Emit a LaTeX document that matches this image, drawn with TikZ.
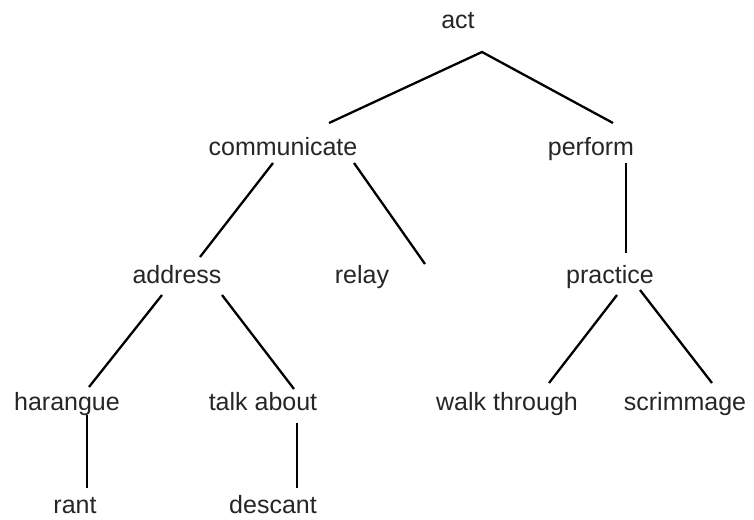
\documentclass[tikz,border=0pt]{standalone}
\usepackage{fontspec}
\setmainfont{Liberation Sans}
\begin{document}
\begin{tikzpicture}[x=1pt,y=-1pt,
  lbl/.style={anchor=base,inner sep=0pt,font=\fontsize{25}{30}\selectfont,text=black!85},
  edge/.style={line width=2.3pt,black}]
\useasboundingbox (0,0) rectangle (754,519);
\fill[white] (0,0) rectangle (754,519);
% nodes
\node[lbl] (act) at (458,29) {act};
\node[lbl] (communicate) at (283,155) {communicate};
\node[lbl] (perform) at (591,155) {perform};
\node[lbl] (address) at (177,283) {address};
\node[lbl] (relay) at (362,283) {relay};
\node[lbl] (practice) at (610,283) {practice};
\node[lbl] (harangue) at (67,410) {harangue};
\node[lbl] (talkabout) at (263,410) {talk about};
\node[lbl] (walkthrough) at (507,410) {walk through};
\node[lbl] (scrimmage) at (685,410) {scrimmage};
\node[lbl] (rant) at (75,513) {rant};
\node[lbl] (descant) at (273,513) {descant};
% connector end points
\coordinate (actB) at (482,52);
\coordinate (comT) at (329,123);
\coordinate (perT) at (613,123);
\coordinate (comBL) at (273,163);
\coordinate (comBR) at (354,163);
\coordinate (addT) at (200,257);
\coordinate (relT) at (425,264);
\coordinate (perB) at (626,163);
\coordinate (praT) at (626,253);
\coordinate (addBL) at (162,295);
\coordinate (addBR) at (222,295);
\coordinate (harT) at (89,387);
\coordinate (talT) at (294,389);
\coordinate (harB) at (87,415);
\coordinate (ranT) at (87,488);
\coordinate (talB) at (297,423);
\coordinate (desT) at (297,488);
\coordinate (praBL) at (617,295);
\coordinate (praBR) at (640,290);
\coordinate (walT) at (549,383);
\coordinate (scrT) at (712,383);
% connectors
\draw[edge] (comT) -- (actB) -- (perT);
\draw[edge] (comBL) -- (addT);
\draw[edge] (comBR) -- (relT);
\draw[edge] (perB) -- (praT);
\draw[edge] (addBL) -- (harT);
\draw[edge] (addBR) -- (talT);
\draw[edge] (harB) -- (ranT);
\draw[edge] (talB) -- (desT);
\draw[edge] (praBL) -- (walT);
\draw[edge] (praBR) -- (scrT);
\end{tikzpicture}
\end{document}
